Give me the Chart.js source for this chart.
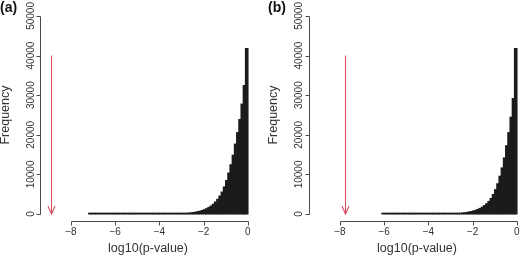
<!DOCTYPE html>
<html>
<head>
<meta charset="utf-8">
<script src="https://cdn.jsdelivr.net/npm/chart.js@4"></script>
<style>
  body { margin: 0; background: #fff; }
  #wrap { position: relative; width: 520px; height: 256px; overflow: hidden; }
  canvas { position: absolute; top: 0; }
</style>
</head>
<body>
<div id="wrap">
  <canvas id="chartA" width="260" height="256" style="left:0"></canvas>
  <canvas id="chartB" width="270" height="256" style="left:260px"></canvas>
</div>
<script>
// histogram bins of log10(p-value), width 0.1
const binWidth = 0.1;
const binStartA = -7.2;
const countsA = [1, 1, 1, 1, 1, 1, 1, 1, 1, 1, 2, 2, 2, 2, 2, 3, 3, 3, 4, 4, 5, 5,
  6, 7, 8, 9, 10, 12, 13, 15, 17, 19,
  23, 28, 34, 41, 50, 60, 74, 90, 110, 130, 160, 200, 240, 290, 360, 430, 530, 640, 780, 950,
  1160, 1410, 1720, 2090, 2540, 3100, 3760, 4600, 5600, 6900,
  8500, 10400, 12500, 14900, 17700, 20600, 23900, 27800, 32500, 41800];
const binStartB = -6.1;
const countsB = [1, 1, 1, 1, 1, 1, 1, 2, 2, 2, 3, 3, 3, 4, 4, 5, 6, 7, 9, 11, 13,
  16, 20, 24, 30, 36, 44, 53, 65, 79, 96, 117, 142, 172, 210, 255, 310, 380, 460, 560, 680,
  830, 1000, 1220, 1480, 1800, 2190, 2660, 3240, 4000, 5000,
  6200, 7700, 9600, 11700, 14200, 17300, 20600, 24500, 29200, 41800];

// red arrows (threshold marks)
const arrowX = [-8.92, -7.75];
const arrowTop = [40000, 40000];

const xTicks = [-8, -6, -4, -2, 0];
const yTicks = [0, 10000, 20000, 30000, 40000, 50000];
const panelLabels = ['(a)', '(b)'];

const FONT = '"Liberation Sans", Arial, Helvetica, sans-serif';
const AXIS = '#4a4a4a';
const TEXT = '#333';
const RED = '#dc4f62';

const axesPlugin = {
  id: 'rAxes',
  afterDatasetsDraw(chart, args, opts) {
    const { ctx, chartArea } = chart;
    const xs = chart.scales.x, ys = chart.scales.y;
    ctx.save();
    ctx.strokeStyle = AXIS;
    ctx.lineWidth = 1;

    // y axis
    const ax = Math.round(chartArea.left) + 0.5;
    ctx.beginPath();
    ctx.moveTo(ax, Math.round(ys.getPixelForValue(yTicks[0])) + 0.5);
    ctx.lineTo(ax, Math.round(ys.getPixelForValue(yTicks[yTicks.length - 1])) + 0.5);
    yTicks.forEach(v => {
      const py = Math.round(ys.getPixelForValue(v)) + 0.5;
      ctx.moveTo(ax, py);
      ctx.lineTo(ax - 4, py);
    });
    ctx.stroke();

    ctx.fillStyle = TEXT;
    ctx.font = '10px ' + FONT;
    ctx.textAlign = 'center';
    ctx.textBaseline = 'middle';
    yTicks.forEach(v => {
      ctx.save();
      ctx.translate(ax - opts.yLabelGap, ys.getPixelForValue(v));
      ctx.rotate(-Math.PI / 2);
      ctx.fillText(String(v), 0, 0);
      ctx.restore();
    });

    // x axis
    const ay = Math.round(chartArea.bottom) - 0.5;
    ctx.beginPath();
    ctx.moveTo(Math.round(xs.getPixelForValue(xTicks[0])) + 0.5, ay);
    ctx.lineTo(Math.round(xs.getPixelForValue(xTicks[xTicks.length - 1])) + 0.5, ay);
    xTicks.forEach(v => {
      const px = Math.round(xs.getPixelForValue(v)) + 0.5;
      ctx.moveTo(px, ay);
      ctx.lineTo(px, ay + 4);
    });
    ctx.stroke();
    xTicks.forEach(v => {
      ctx.fillText(v < 0 ? '\u2212' + Math.abs(v) : String(v), xs.getPixelForValue(v), ay + 11);
    });

    // axis titles
    ctx.font = '12.5px ' + FONT;
    ctx.fillText('log10(p-value)', (chartArea.left + chartArea.right) / 2, ay + 27.5);
    ctx.save();
    ctx.translate(opts.yTitleX, (chartArea.top + chartArea.bottom) / 2);
    ctx.rotate(-Math.PI / 2);
    ctx.fillText('Frequency', 0, 0);
    ctx.restore();

    // arrow
    const px = Math.round(xs.getPixelForValue(opts.arrowX)) + 0.5;
    const top = ys.getPixelForValue(opts.arrowTop);
    const tip = ys.getPixelForValue(0);
    ctx.strokeStyle = RED;
    ctx.lineWidth = 1.1;
    ctx.beginPath();
    ctx.moveTo(px, top);
    ctx.lineTo(px, tip);
    ctx.moveTo(px - 3.5, tip - 8);
    ctx.lineTo(px, tip);
    ctx.lineTo(px + 3.5, tip - 8);
    ctx.stroke();

    // panel label
    ctx.fillStyle = '#111';
    ctx.font = 'bold 14px ' + FONT;
    ctx.textAlign = 'left';
    ctx.fillText(opts.label, opts.labelX, 8);
    ctx.restore();
  }
};

function makeChart(id, binStart, counts, pad, extra) {
  const data = counts.map((c, i) => ({ x: binStart + binWidth * (i + 0.5), y: c }));
  return new Chart(document.getElementById(id), {
    type: 'bar',
    data: {
      datasets: [{
        data: data,
        backgroundColor: '#1b1b1b',
        borderWidth: 0,
        barThickness: 3,
        minBarLength: 1,
      }],
    },
    options: {
      responsive: false,
      animation: false,
      events: [],
      layout: { padding: pad },
      plugins: {
        legend: { display: false },
        tooltip: { enabled: false },
        rAxes: extra,
      },
      scales: {
        x: { type: 'linear', min: -9.4, max: 0.37, offset: false, display: false },
        y: { min: -2000, max: 52000, display: false },
      },
    },
    plugins: [axesPlugin],
  });
}

makeChart('chartA', binStartA, countsA,
  { left: 40, right: 4, top: 8, bottom: 34 },
  { arrowX: arrowX[0], arrowTop: arrowTop[0], label: panelLabels[0], labelX: 0, yLabelGap: 9, yTitleX: 6 });

makeChart('chartB', binStartB, countsB,
  { left: 49, right: 5, top: 8, bottom: 34 },
  { arrowX: arrowX[1], arrowTop: arrowTop[1], label: panelLabels[1], labelX: 8, yLabelGap: 10, yTitleX: 13.5 });
</script>
</body>
</html>
